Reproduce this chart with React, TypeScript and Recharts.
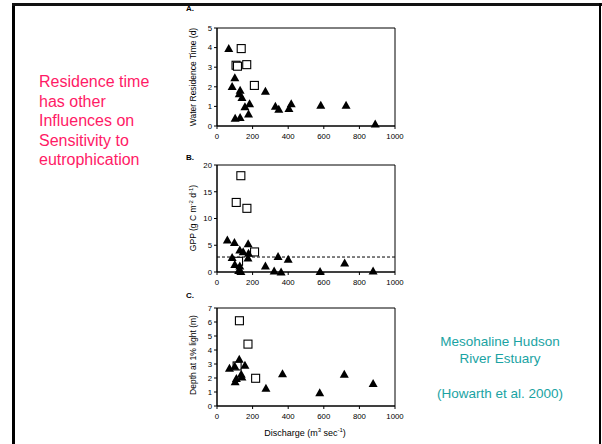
import { ScatterChart, Scatter, XAxis, YAxis, ReferenceArea, ReferenceLine } from 'recharts'

interface Pt { x: number; y: number }

const xTicks = [0, 200, 400, 600, 800, 1000]
const residenceTicks = [0, 1, 2, 3, 4, 5]
const gppTicks = [0, 5, 10, 15, 20]
const depthTicks = [0, 1, 2, 3, 4, 5, 6, 7]
const gppThreshold = 2.8

// A. water residence time (d) vs discharge
const residenceTri: Pt[] = [
  { x: 66, y: 3.96 }, { x: 100, y: 2.46 }, { x: 85, y: 2.02 }, { x: 130, y: 1.82 },
  { x: 125, y: 1.65 }, { x: 140, y: 1.45 }, { x: 272, y: 1.77 }, { x: 157, y: 0.98 },
  { x: 183, y: 1.14 }, { x: 177, y: 0.61 }, { x: 102, y: 0.39 }, { x: 130, y: 0.44 },
  { x: 328, y: 1.01 }, { x: 347, y: 0.86 }, { x: 417, y: 1.14 }, { x: 404, y: 0.89 },
  { x: 583, y: 1.06 }, { x: 725, y: 1.06 }, { x: 889, y: 0.1 },
]
const residenceSq: Pt[] = [
  { x: 136, y: 3.95 }, { x: 107, y: 3.1 }, { x: 115, y: 3.05 }, { x: 167, y: 3.13 }, { x: 210, y: 2.07 },
]

// B. GPP (g C m-2 d-1)
const gppTri: Pt[] = [
  { x: 58, y: 6.0 }, { x: 98, y: 5.5 }, { x: 128, y: 4.1 }, { x: 147, y: 3.8 },
  { x: 175, y: 5.3 }, { x: 177, y: 3.5 }, { x: 174, y: 2.6 }, { x: 85, y: 2.7 },
  { x: 100, y: 1.4 }, { x: 128, y: 1.1 }, { x: 134, y: 0.1 }, { x: 122, y: 0.3 },
  { x: 272, y: 1.1 }, { x: 321, y: 0.2 }, { x: 343, y: 2.9 }, { x: 360, y: 0.0 },
  { x: 400, y: 2.4 }, { x: 579, y: 0.1 }, { x: 717, y: 1.7 }, { x: 877, y: 0.2 },
]
const gppSq: Pt[] = [
  { x: 134, y: 18.0 }, { x: 108, y: 13.0 }, { x: 168, y: 11.9 }, { x: 211, y: 3.75 }, { x: 121, y: 2.0 },
]

// C. depth at 1% light (m)
const depthTri: Pt[] = [
  { x: 70, y: 2.7 }, { x: 100, y: 2.84 }, { x: 125, y: 3.34 }, { x: 157, y: 2.91 },
  { x: 136, y: 2.27 }, { x: 140, y: 2.08 }, { x: 102, y: 1.74 }, { x: 109, y: 1.96 },
  { x: 275, y: 1.26 }, { x: 368, y: 2.31 }, { x: 577, y: 0.95 }, { x: 715, y: 2.27 },
  { x: 877, y: 1.6 },
]
const depthSq: Pt[] = [
  { x: 126, y: 6.09 }, { x: 174, y: 4.42 }, { x: 217, y: 1.98 }, { x: 113, y: 2.86 },
]

const FONT = '"Liberation Sans", Arial, sans-serif'
const tick = { fontSize: 7.8, fill: '#000', fontFamily: FONT }

const Triangle = (p: any) => {
  const { cx, cy } = p
  return <polygon points={`${cx},${cy - 4.5} ${cx + 4.5},${cy + 3.5} ${cx - 4.5},${cy + 3.5}`} fill="#000" />
}
const Square = (p: any) => {
  const { cx, cy } = p
  return <rect x={cx - 4} y={cy - 4} width={8} height={8} fill="#fff" stroke="#000" strokeWidth={1.1} />
}

function Panel({ top, bottom, ticks, tri, sq, line }: {
  top: number; bottom: number; ticks: number[]; tri: Pt[]; sq: Pt[]; line?: number
}) {
  const ymax = ticks[ticks.length - 1]
  const h = bottom - top + 10 + 24
  return (
    <div style={{ position: 'absolute', left: 180, top: top - 10 }}>
      <ScatterChart width={230} height={h} margin={{ top: 10, right: 15, left: 17, bottom: 0 }}>
        <XAxis type="number" dataKey="x" domain={[0, 1000]} ticks={xTicks} tick={tick} interval={0}
          tickSize={3} tickMargin={4} height={24} axisLine={{ stroke: '#000' }} tickLine={{ stroke: '#000' }} />
        <YAxis type="number" dataKey="y" domain={[0, ymax]} ticks={ticks} tick={tick} interval={0}
          tickSize={3} tickMargin={2} width={20} axisLine={{ stroke: '#000' }} tickLine={{ stroke: '#000' }} />
        <ReferenceArea x1={0} x2={1000} y1={0} y2={ymax} fill="none" stroke="#000" strokeWidth={1} />
        {line !== undefined && (
          <ReferenceLine y={line} stroke="#000" strokeDasharray="3 2" strokeWidth={1} />
        )}
        <Scatter data={sq} shape={Square} isAnimationActive={false} />
        <Scatter data={tri} shape={Triangle} isAnimationActive={false} />
      </ScatterChart>
    </div>
  )
}

const yTitle = (text: React.ReactNode, cy: number) => (
  <div style={{
    position: 'absolute', left: 193, top: cy, transform: 'translate(-50%, -50%) rotate(-90deg)',
    whiteSpace: 'nowrap', fontSize: 8.5, fontFamily: FONT,
  }}>{text}</div>
)

const panelLetter = (t: string, y: number) => (
  <div style={{ position: 'absolute', left: 186, top: y, fontSize: 8, fontWeight: 'bold', fontFamily: FONT }}>{t}</div>
)

export default function App() {
  return (
    <div style={{ position: 'absolute', left: 0, top: 0, width: 602, height: 444, background: '#fff', fontFamily: FONT, overflow: 'hidden' }}>
      <div style={{ position: 'absolute', left: 12, top: 3, width: 3, height: 441, background: '#000' }} />
      <div style={{ position: 'absolute', left: 12, top: 3, width: 590, height: 3, background: '#111' }} />
      <div style={{ position: 'absolute', left: 599, top: 3, width: 2, height: 441, background: '#000' }} />

      <div style={{ position: 'absolute', left: 39, top: 72, color: '#ff1a66', fontSize: 16, lineHeight: '19.5px' }}>
        Residence time<br />has other<br />Influences on<br />Sensitivity to<br />eutrophication
      </div>

      <div style={{ position: 'absolute', left: 400, width: 200, top: 333, color: '#1aa3a3', fontSize: 13.5, lineHeight: '17px', textAlign: 'center' }}>
        Mesohaline Hudson<br />River Estuary<br /><br /><span style={{ display: 'inline-block', marginTop: 1 }}>(Howarth et al. 2000)</span>
      </div>

      {panelLetter('A.', 4)}
      {panelLetter('B.', 153)}
      {panelLetter('C.', 291)}

      {yTitle('Water Residence Time (d)', 77)}
      {yTitle(<>GPP (g C m<sup style={{ fontSize: 6 }}>-2</sup> d<sup style={{ fontSize: 6 }}>-1</sup>)</>, 218)}
      {yTitle('Depth at 1% light (m)', 355)}

      <Panel top={28} bottom={126} ticks={residenceTicks} tri={residenceTri} sq={residenceSq} />
      <Panel top={165} bottom={272} ticks={gppTicks} tri={gppTri} sq={gppSq} line={gppThreshold} />
      <Panel top={308} bottom={406} ticks={depthTicks} tri={depthTri} sq={depthSq} />

      <div style={{ position: 'absolute', left: 305, top: 432, transform: 'translate(-50%, -50%)', whiteSpace: 'nowrap', fontSize: 9 }}>
        Discharge (m<sup style={{ fontSize: 6 }}>3</sup> sec<sup style={{ fontSize: 6 }}>-1</sup>)
      </div>
    </div>
  )
}
